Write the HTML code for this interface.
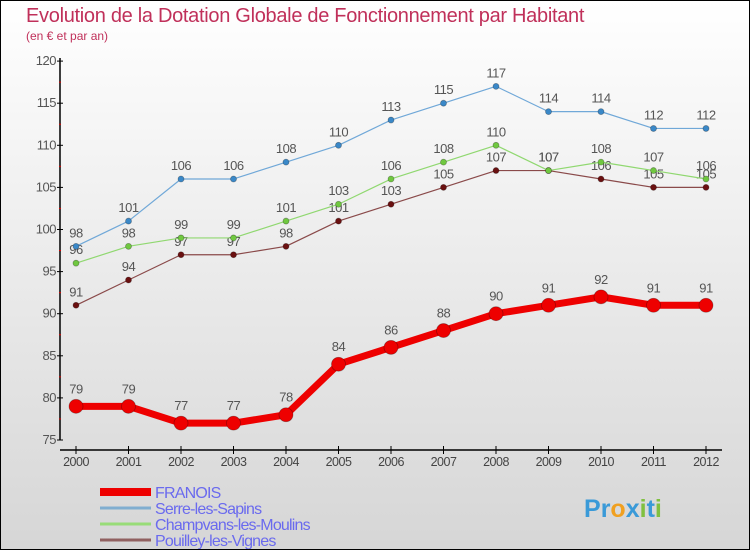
<!DOCTYPE html>
<html><head><meta charset="utf-8"><style>
body{margin:0}
#c{width:750px;height:550px;position:relative;box-sizing:border-box;border:1px solid #000;background:linear-gradient(#ffffff,#d6d6d6);font-family:"Liberation Sans",sans-serif;overflow:hidden}
</style></head><body>
<div id="c">
<svg id="s" width="750" height="550" style="position:absolute;left:-1px;top:-1px">
<text x="26" y="22" font-size="20" fill="#c0305a" letter-spacing="-0.3">Evolution de la Dotation Globale de Fonctionnement par Habitant</text>
<text x="26" y="40" font-size="12" fill="#c0305a">(en € et par an)</text>
</svg>
</div>
<script>
const years=["2000","2001","2002","2003","2004","2005","2006","2007","2008","2009","2010","2011","2012"];
const yTicks=[75,80,85,90,95,100,105,110,115,120];
const franois=[79,79,77,77,78,84,86,88,90,91,92,91,91];
const serre=[98,101,106,106,108,110,113,115,117,114,114,112,112];
const champvans=[96,98,99,99,101,103,106,108,110,107,108,107,106];
const pouilley=[91,94,97,97,98,101,103,105,107,107,106,105,105];
const s=document.getElementById('s');const NS='http://www.w3.org/2000/svg';
function X(i){return 76+i*52.5}
function Y(v){return 440-(v-75)*8.42}
function el(t,a,txt){const e=document.createElementNS(NS,t);for(const k in a)e.setAttribute(k,a[k]);if(txt!=null)e.textContent=txt;s.appendChild(e);return e}
let e;
e=el('line',{x1:60,y1:58,x2:60,y2:440,stroke:'#000','stroke-width':1.5});


e=el('line',{x1:60,y1:450,x2:722,y2:450,stroke:'#000','stroke-width':1.5});


yTicks.forEach((v,i)=>{
 el('line',{x1:57,y1:Y(v),x2:63,y2:Y(v),stroke:'#000'});
 if(i<yTicks.length-1)el('line',{x1:59,y1:Y(v+2.5),x2:61,y2:Y(v+2.5),stroke:'#d00'});
 e=el('text',{x:56,y:Y(v)+4,'font-size':13,fill:'#555','text-anchor':'end','letter-spacing':'-0.5'},String(v));
 
 
});
years.forEach((y,i)=>{
 el('line',{x1:X(i),y1:446,x2:X(i),y2:454,stroke:'#000'});
 e=el('text',{x:X(i),y:466,'font-size':12.5,fill:'#444','text-anchor':'middle','letter-spacing':'-0.5'},y);
 
 
});
function series(data,color,w,r,dot,name){
 e=el('polyline',{points:data.map((v,i)=>X(i)+','+Y(v)).join(' '),fill:'none',stroke:color,'stroke-width':w,'stroke-linejoin':'round'});
 
 
 data.forEach((v,i)=>{
  e=el('circle',{cx:X(i),cy:Y(v),r:r,fill:dot,stroke:'rgba(0,0,0,0.3)','stroke-width':0.8});
  
  
  e=el('text',{x:X(i),y:Y(v)-(r+6),'font-size':13,fill:'#555','text-anchor':'middle','letter-spacing':'-0.5'},String(v));
  
  
 });
}
series(pouilley,'#8a4a4a',1.2,3,'#6a1010','pouilley');
series(champvans,'#90d870',1.2,3,'#70c840','champvans');
series(serre,'#70a8d8',1.2,3,'#3a88c8','serre');
series(franois,'#ee0000',7,7,'#ee0000','franois');
const leg=[['FRANOIS','#ee0000',8],['Serre-les-Sapins','#80aed0',3],['Champvans-les-Moulins','#98dc78',3],['Pouilley-les-Vignes','#906060',3]];
leg.forEach((l,i)=>{
 const y=492+i*16;
 e=el('line',{x1:100,y1:y,x2:151,y2:y,stroke:l[1],'stroke-width':l[2]});
 
 
 e=el('text',{x:155,y:y+6,'font-size':16,fill:'#6a6aee','letter-spacing':'-0.8'},l[0]);
 
 
});
const logo=[['P','#3a9ad8'],['r','#3a9ad8'],['o','#f0a020'],['x','#3a9ad8'],['i','#80c040'],['t','#3a9ad8'],['i','#80c040']];
e=el('text',{x:584,y:517,'font-size':25,'font-weight':'bold'});


logo.forEach(c=>{const t=document.createElementNS(NS,'tspan');t.setAttribute('fill',c[1]);t.textContent=c[0];e.appendChild(t);});
</script>
</body></html>
